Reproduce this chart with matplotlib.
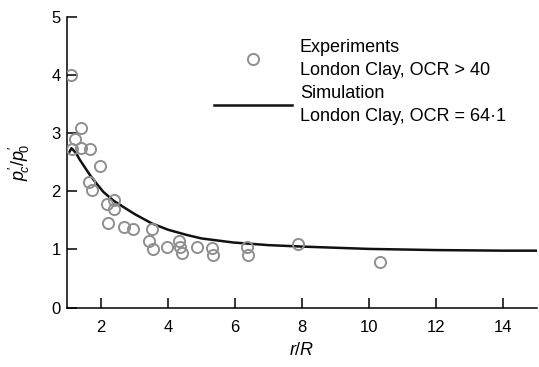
import matplotlib
matplotlib.use("Agg")
import matplotlib.pyplot as plt
from matplotlib.lines import Line2D

plt.rcParams['font.family'] = ['Liberation Sans', 'DejaVu Sans']
plt.rcParams['mathtext.fontset'] = 'custom'
plt.rcParams['mathtext.it'] = 'Liberation Sans:italic'
plt.rcParams['mathtext.rm'] = 'Liberation Sans'
plt.rcParams['mathtext.sf'] = 'Liberation Sans'

# Experimental data (r/R, p'c/p'0)
exp_x = [1.10, 1.39, 1.22, 1.13, 1.39, 1.67, 1.96, 1.65, 1.73, 2.17, 2.39, 2.39,
         2.20, 2.70, 2.96, 3.51, 3.42, 3.54, 3.98, 4.34, 4.36, 4.41, 4.87, 5.30,
         5.35, 6.35, 6.40, 7.87, 10.33]
exp_y = [3.99, 3.09, 2.89, 2.72, 2.74, 2.72, 2.43, 2.16, 2.03, 1.78, 1.85, 1.69,
         1.46, 1.39, 1.36, 1.35, 1.14, 1.01, 1.04, 1.14, 1.05, 0.94, 1.04, 1.02,
         0.90, 1.04, 0.91, 1.09, 0.79]

# Simulation curve
sim_x = [1.04, 1.12, 1.25, 1.37, 1.52, 1.67, 1.87, 2.07, 2.37, 2.67, 3.0, 3.51,
         4.0, 4.56, 5.0, 5.95, 7.0, 8.0, 9.0, 10.0, 11.0, 12.0, 13.0, 14.0, 15.0]
sim_y = [2.66, 2.74, 2.66, 2.54, 2.41, 2.28, 2.13, 1.99, 1.84, 1.73, 1.61, 1.45,
         1.34, 1.25, 1.19, 1.12, 1.075, 1.05, 1.03, 1.01, 1.0, 0.99, 0.985, 0.98, 0.98]

xticks = [2, 4, 6, 8, 10, 12, 14]
yticks = [0, 1, 2, 3, 4, 5]

fig = plt.figure(figsize=(5.39, 3.67), dpi=100)
ax = fig.add_axes([0.1252, 0.1616, 0.8702, 0.7929])

grey = '#8f8f8f'
ax.plot(sim_x, sim_y, color='#111111', lw=1.8, zorder=2)
ax.plot(exp_x, exp_y, linestyle='none', marker='o', ms=8, mfc='none',
        mec=grey, mew=1.4, zorder=3)

ax.set_xlim(1, 15)
ax.set_ylim(0, 5)
ax.set_xticks(xticks)
ax.set_yticks(yticks)
for s in ['top', 'right']:
    ax.spines[s].set_visible(False)
for s in ['left', 'bottom']:
    ax.spines[s].set_linewidth(1.1)
ax.tick_params(axis='x', direction='in', length=7, width=1.1, labelsize=12, pad=9)
ax.tick_params(axis='y', direction='in', length=7, width=1.1, labelsize=12, pad=5)

ax.set_xlabel(r'$r/R$', fontsize=13, labelpad=5)
ax.set_ylabel("$p^{\u2032}_{\\!c}/p^{\u2032}_{\\!0}$", fontsize=13, labelpad=14)

handles = [
    Line2D([], [], linestyle='none', marker='o', ms=8, mfc='none', mec=grey, mew=1.4),
    Line2D([], [], color='#111111', lw=1.8),
]
labels = ['Experiments\nLondon Clay, OCR > 40', 'Simulation\nLondon Clay, OCR = 64\u00b71']
leg = ax.legend(handles, labels, loc='upper left', bbox_to_anchor=(214 / 539, 1 - 39 / 367),
                bbox_transform=fig.transFigure, frameon=False, fontsize=13,
                handlelength=4.3, handletextpad=0.45, borderpad=0, borderaxespad=0,
                labelspacing=0.33)
for t in leg.get_texts():
    t.set_linespacing(1.47)

fig.savefig('out.png', dpi=100)
